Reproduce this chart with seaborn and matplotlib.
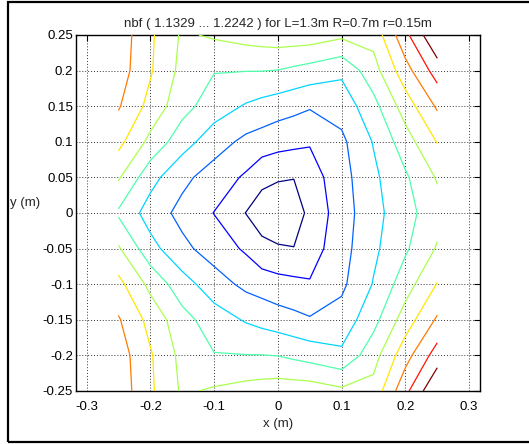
import numpy as np
import matplotlib
matplotlib.use("Agg")
import matplotlib.pyplot as plt
from matplotlib.patches import Rectangle
import seaborn as sns

sns.set_theme(style="white")
plt.rcParams["font.family"] = ["Liberation Sans", "DejaVu Sans"]

# sample points (m)
x_m = [-0.25, -0.2, -0.15, -0.1, -0.05, -0.025, 0.0, 0.025, 0.05, 0.1, 0.15, 0.2, 0.25]
y_m = [-0.25, -0.2, -0.15, -0.1, -0.05, 0.0, 0.05, 0.1, 0.15, 0.2, 0.25]

# nbf values, one row per y (x from -0.25 to 0.25)
nbf_ym025 = [1.2043, 1.1924, 1.1815, 1.1838, 1.1859, 1.1867, 1.1874, 1.1873, 1.1872, 1.1844, 1.1856, 1.2054, 1.2242]
nbf_ym020 = [1.2035, 1.1919, 1.1802, 1.1748, 1.1746, 1.1746, 1.1742, 1.1727, 1.1711, 1.1678, 1.1794, 1.1961, 1.2115]
nbf_ym015 = [1.2001, 1.1883, 1.1774, 1.1701, 1.1653, 1.1634, 1.1617, 1.1601, 1.1586, 1.1611, 1.1717, 1.1867, 1.2005]
nbf_ym010 = [1.1935, 1.1804, 1.1696, 1.1616, 1.1557, 1.1541, 1.1524, 1.1517, 1.1502, 1.1561, 1.1666, 1.1789, 1.1914]
nbf_ym005 = [1.1837, 1.1690, 1.1599, 1.1540, 1.1483, 1.1434, 1.1424, 1.1414, 1.1454, 1.1547, 1.1644, 1.1732, 1.1835]
nbf_y000 = [1.1732, 1.1624, 1.1553, 1.1493, 1.1410, 1.1371, 1.1329, 1.1375, 1.1430, 1.1540, 1.1633, 1.1715, 1.1794]
nbf_y005 = [1.1837, 1.1690, 1.1599, 1.1540, 1.1483, 1.1434, 1.1424, 1.1414, 1.1454, 1.1547, 1.1644, 1.1732, 1.1835]
nbf_y010 = [1.1935, 1.1804, 1.1696, 1.1616, 1.1557, 1.1541, 1.1524, 1.1517, 1.1502, 1.1561, 1.1666, 1.1789, 1.1914]
nbf_y015 = [1.2001, 1.1883, 1.1774, 1.1701, 1.1653, 1.1634, 1.1617, 1.1601, 1.1586, 1.1611, 1.1717, 1.1867, 1.2005]
nbf_y020 = [1.2035, 1.1919, 1.1802, 1.1748, 1.1746, 1.1746, 1.1742, 1.1727, 1.1711, 1.1678, 1.1794, 1.1961, 1.2115]
nbf_y025 = [1.2043, 1.1924, 1.1815, 1.1838, 1.1859, 1.1867, 1.1874, 1.1873, 1.1872, 1.1844, 1.1856, 1.2054, 1.2242]

levels = [1.1412, 1.1495, 1.1578, 1.1661, 1.1744, 1.1827, 1.1910, 1.1993, 1.2076, 1.2159]

x_ticks = [-0.3, -0.2, -0.1, 0.0, 0.1, 0.2, 0.3]
x_ticklabels = ["-0.3", "-0.2", "-0.1", "0", "0.1", "0.2", "0.3"]
y_ticks = [-0.25, -0.2, -0.15, -0.1, -0.05, 0.0, 0.05, 0.1, 0.15, 0.2, 0.25]
y_ticklabels = ["-0.25", "-0.2", "-0.15", "-0.1", "-0.05", "0", "0.05", "0.1", "0.15", "0.2", "0.25"]

nbf = np.array([nbf_ym025, nbf_ym020, nbf_ym015, nbf_ym010, nbf_ym005, nbf_y000,
                nbf_y005, nbf_y010, nbf_y015, nbf_y020, nbf_y025])

fig = plt.figure(figsize=(5.29, 4.44), dpi=100)
fig.patch.set_facecolor("white")
ax = fig.add_axes([0.1431, 0.1194, 0.7643, 0.8018])
ax.set_facecolor("white")

ax.contour(x_m, y_m, nbf, levels=levels, cmap="jet", linewidths=0.9, zorder=3)

ax.set_xlim(-0.317, 0.317)
ax.set_ylim(-0.25, 0.25)
ax.set_xticks(x_ticks)
ax.set_xticklabels(x_ticklabels)
ax.set_yticks(y_ticks)
ax.set_yticklabels(y_ticklabels)
ax.tick_params(direction="in", top=True, right=True, length=4, width=0.8,
               labelsize=9.5, colors="black")
ax.tick_params(axis="x", pad=7)
ax.tick_params(axis="y", pad=2)
ax.grid(True, linestyle=(0, (1, 2)), color="0.2", linewidth=0.7)
for sp in ax.spines.values():
    sp.set_color("black")
    sp.set_linewidth(1.0)

ax.set_title("nbf ( 1.1329 ... 1.2242 ) for L=1.3m R=0.7m r=0.15m", fontsize=9.5, pad=6)
ax.set_xlabel("x (m)", fontsize=9.5, labelpad=4)
fig.text(10.5 / 529, 1 - 203 / 444, "y (m)", fontsize=9.5, ha="left", va="center")

# outer frame (cut off on the right like the original)
fig.patches.append(Rectangle((7.5 / 529, 1 - 442 / 444), 1.2, (442 - 2.5) / 444,
                             transform=fig.transFigure, fill=False, lw=1.6,
                             edgecolor="black"))

fig.savefig("out.png", dpi=100)
